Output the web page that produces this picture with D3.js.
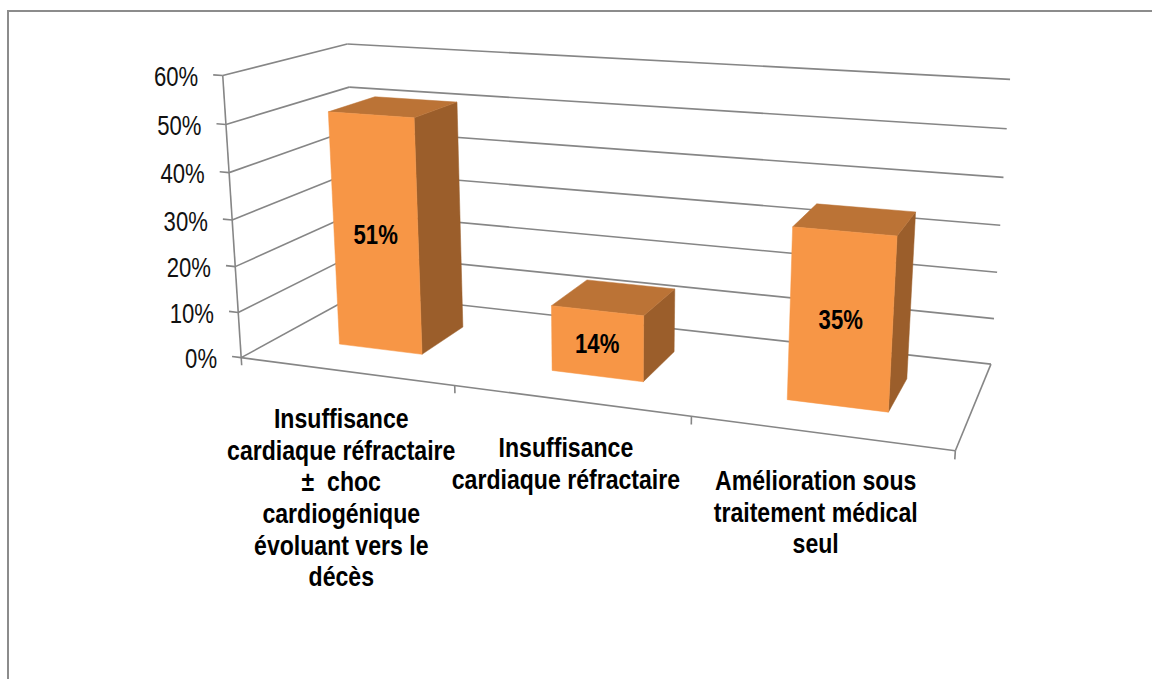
<!DOCTYPE html>
<html>
<head>
<meta charset="utf-8">
<script src="https://cdn.jsdelivr.net/npm/d3@7"></script>
<style>
  html, body { margin: 0; padding: 0; background: #ffffff; }
  svg { display: block; }
  text { font-family: "Liberation Sans", Arial, sans-serif; }
</style>
</head>
<body>
<script>
// ---------------- DATA ----------------
const categories = ["cat1", "cat2", "cat3"];
const categoryLines = [
  ["Insuffisance", "cardiaque réfractaire", "±  choc", "cardiogénique", "évoluant vers le", "décès"],
  ["Insuffisance", "cardiaque réfractaire"],
  ["Amélioration sous", "traitement médical", "seul"]
];
const values = [51, 14, 35];
const valueLabels = ["51%", "14%", "35%"];
const yTicks = [0, 10, 20, 30, 40, 50, 60];
const yTickLabels = ["0%", "10%", "20%", "30%", "40%", "50%", "60%"];

// ---------------- LAYOUT ----------------
const W = 1152, H = 679;
const NARROW = 0.82;      // horizontal condensing to mimic a narrow typeface
const NARROW_CAT = 0.855;
const FS = 27;
const svg = d3.select("body").append("svg").attr("width", W).attr("height", H);

// world coordinates: X = category units [0,3], Y = value (normalised [0,1]), Z = depth [0,1]
const yScale = d3.scaleLinear().domain([0, 60]).range([0, 1]);
const xEdge = d3.scaleLinear().domain([0, categories.length]).range([0, 3]);
const xBand = d3.scaleBand().domain(d3.range(categories.length)).range([0, 3])
  .paddingInner(0.6).paddingOuter(0.3);
const zFront = 0.3, zBack = 0.7;

// perspective projection anchored on the frame of the 3D plot box
const anchors = [
  [0, 0, 0, 242, 358], [1, 0, 0, 455, 387], [2, 0, 0, 691, 418], [3, 0, 0, 955, 450],
  [0, 1, 0, 223, 76], [0, 5/6, 0, 226, 124], [0, 4/6, 0, 229, 172], [0, 3/6, 0, 232, 220],
  [0, 2/6, 0, 235, 265], [0, 1/6, 0, 238, 312],
  [0, 1, 1, 347, 44], [0, 5/6, 1, 349, 88],
  [3, 1, 1, 1010, 80], [3, 5/6, 1, 1007, 129], [3, 4/6, 1, 1004, 177], [3, 3/6, 1, 1000, 225],
  [3, 2/6, 1, 997, 272], [3, 1/6, 1, 994, 318], [3, 0, 1, 991, 364]
];

function solveDLT(pts) {
  const n = 11;
  const AtA = Array.from({length: n}, () => new Array(n).fill(0));
  const Atb = new Array(n).fill(0);
  function addRow(r, b) {
    for (let i = 0; i < n; i++) {
      Atb[i] += r[i] * b;
      for (let j = 0; j < n; j++) AtA[i][j] += r[i] * r[j];
    }
  }
  pts.forEach(([X, Y, Z, u, v]) => {
    addRow([X, Y, Z, 1, 0, 0, 0, 0, -u * X, -u * Y, -u * Z], u);
    addRow([0, 0, 0, 0, X, Y, Z, 1, -v * X, -v * Y, -v * Z], v);
  });
  const M = AtA.map((row, i) => row.concat([Atb[i]]));
  for (let c = 0; c < n; c++) {
    let p = c;
    for (let r = c + 1; r < n; r++) if (Math.abs(M[r][c]) > Math.abs(M[p][c])) p = r;
    [M[c], M[p]] = [M[p], M[c]];
    for (let r = 0; r < n; r++) {
      if (r === c) continue;
      const f = M[r][c] / M[c][c];
      for (let k = c; k <= n; k++) M[r][k] -= f * M[c][k];
    }
  }
  return M.map((row, i) => row[n] / row[i]);
}
const P = solveDLT(anchors);
function proj(X, Y, Z) {
  const w = P[8] * X + P[9] * Y + P[10] * Z + 1;
  return [(P[0] * X + P[1] * Y + P[2] * Z + P[3]) / w,
          (P[4] * X + P[5] * Y + P[6] * Z + P[7]) / w];
}
const line = d3.line();

// condensed text helper
function narrowText(parent, x, y, anchor, size, weight, k) {
  return parent.append("g").attr("transform", `translate(${x},${y}) scale(${k || NARROW},1)`)
    .append("text").attr("text-anchor", anchor).attr("font-size", size)
    .attr("font-weight", weight).attr("fill", "#000").style("white-space", "pre");
}

// ---------------- FRAME ----------------
svg.append("rect").attr("x", 8).attr("y", 11).attr("width", W + 20).attr("height", H + 20)
  .attr("fill", "none").attr("stroke", "#8c8c8c").attr("stroke-width", 2);

const grid = svg.append("g").attr("fill", "none").attr("stroke", "#868686").attr("stroke-width", 1.6);
const Xmax = xEdge(categories.length);

yTicks.forEach(t => {
  const y = yScale(t);
  grid.append("path").attr("d", line([proj(0, y, 1), proj(Xmax, y, 1)]));
  grid.append("path").attr("d", line([proj(0, y, 0), proj(0, y, 1)]));
});
grid.append("path").attr("d", line([proj(0, 0, 0), proj(Xmax, 0, 0)]));
grid.append("path").attr("d", line([proj(Xmax, 0, 0), proj(Xmax, 0, 1)]));
grid.append("path").attr("d", line([proj(0, 0, 0), proj(0, yScale(60), 0)]));
const tickLenX = 0.045;
yTicks.forEach(t => {
  const y = yScale(t);
  grid.append("path").attr("d", line([proj(-tickLenX, y, 0), proj(0, y, 0)]));
});
d3.range(categories.length + 1).forEach(i => {
  const x = xEdge(i);
  grid.append("path").attr("d", line([proj(x, 0, 0), proj(x, -0.028, 0)]));
});

// value tick labels
const yAxisG = svg.append("g");
yTicks.forEach((t, i) => {
  const p = proj(-tickLenX, yScale(t), 0);
  narrowText(yAxisG, p[0] - 15, p[1] + 2, "end", FS, "normal")
    .attr("dy", "0.35em").attr("fill", "#111").text(yTickLabels[i]);
});

// ---------------- BARS ----------------
const colors = { front: "#F79646", top: "#BB7336", side: "#9B5E2B" };
const bars = svg.append("g");
values.forEach((v, i) => {
  const x0 = xBand(i), x1 = xBand(i) + xBand.bandwidth();
  const y1 = yScale(v);
  const g = bars.append("g");
  const faces = [
    { c: colors.side, pts: [[x1, 0, zFront], [x1, 0, zBack], [x1, y1, zBack], [x1, y1, zFront]] },
    { c: colors.top, pts: [[x0, y1, zFront], [x1, y1, zFront], [x1, y1, zBack], [x0, y1, zBack]] },
    { c: colors.front, pts: [[x0, 0, zFront], [x1, 0, zFront], [x1, y1, zFront], [x0, y1, zFront]] }
  ];
  faces.forEach(f => {
    g.append("path").attr("d", line(f.pts.map(p => proj(...p))) + "Z")
      .attr("fill", f.c).attr("stroke", f.c).attr("stroke-width", 0.5);
  });
  const c = proj((x0 + x1) / 2, y1 / 2, zFront);
  narrowText(g, c[0], c[1], "middle", FS, "bold").attr("dy", "0.35em").text(valueLabels[i]);
});

// ---------------- CATEGORY LABELS ----------------
const lineH = 31.6;
categoryLines.forEach((lines, i) => {
  const a = proj(xEdge(i) + 0.5, 0, 0);
  const t = narrowText(svg, a[0] - 4, a[1] + 57, "middle", FS, "bold", NARROW_CAT);
  lines.forEach((s, k) => {
    t.append("tspan").attr("x", 0).attr("y", k * lineH).text(s);
  });
});
</script>
</body>
</html>
